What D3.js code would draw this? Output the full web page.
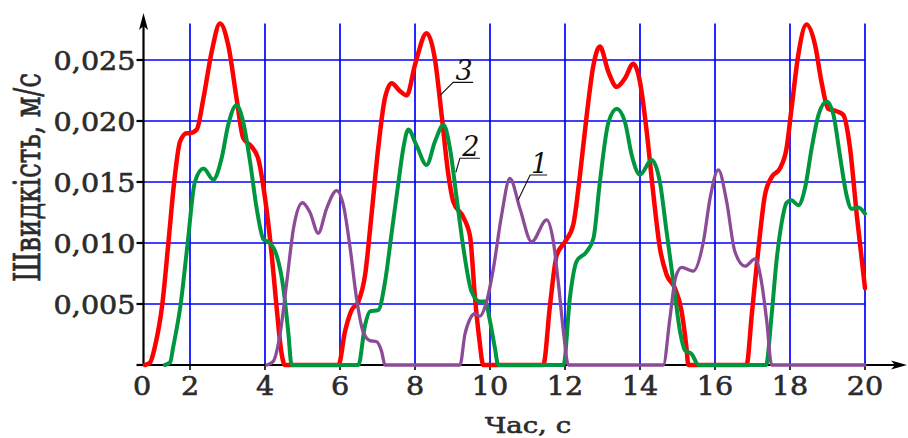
<!DOCTYPE html>
<html><head><meta charset="utf-8">
<script src="https://cdn.jsdelivr.net/npm/d3@7"></script>
<style>html,body{margin:0;padding:0;background:#fff;overflow:hidden}</style>
</head><body>
<svg id="c" width="908" height="438"></svg>
<script>
// ---------- data ----------
const xTickValues = [0, 2, 4, 6, 8, 10, 12, 14, 16, 18, 20];
const xTickLabels = ["0", "2", "4", "6", "8", "10", "12", "14", "16", "18", "20"];
const yTickValues = [0, 0.005, 0.010, 0.015, 0.020, 0.025];
const yTickLabels = ["", "0,005", "0,010", "0,015", "0,020", "0,025"];
const xTitle = "Час, с";
const yTitle = "Швидкість, м/с";
const seriesNames = ["1", "2", "3"];

// curve 1 (purple)
const series1 = [
  [4.05,0],[4.22,0.0003],[4.4,0.0025],[4.58,0.0068],[4.76,0.0112],[5.0,0.0133],[5.2,0.0125],
  [5.42,0.0108],[5.64,0.0128],[5.91,0.0143],[6.09,0.0131],[6.27,0.0096],[6.44,0.0055],
  [6.62,0.0027],[6.8,0.0020],[6.98,0.0019],[7.11,0.0011],[7.2,0],[9.2,0],[9.33,0.0025],
  [9.47,0.0038],[9.6,0.0042],[9.73,0.0040],[9.91,0.0052],[10.09,0.0079],[10.31,0.0123],
  [10.53,0.0153],[10.8,0.0128],[11.11,0.0101],[11.51,0.0119],[11.69,0.0101],[11.82,0.0068],
  [11.96,0.0027],[12.09,0],[14.62,0],[14.8,0.0039],[14.95,0.0072],[15.11,0.0080],[15.42,0.0077],
  [15.69,0.0101],[15.87,0.0137],[16.09,0.0160],[16.31,0.0134],[16.53,0.0093],[16.8,0.0081],
  [17.07,0.0087],[17.24,0.0068],[17.38,0.0036],[17.51,0],[20,0]
];
// curve 2 (green)
const series2 = [
  [0.92,0],[1.14,0.0002],[1.28,0.0015],[1.6,0.005],[1.9,0.010],[2.13,0.015],[2.36,0.0161],
  [2.62,0.0152],[2.84,0.0169],[3.02,0.0197],[3.24,0.0213],[3.42,0.0199],[3.6,0.0167],
  [3.78,0.0128],[3.96,0.0103],[4.13,0.0100],[4.31,0.0090],[4.49,0.0063],[4.62,0.0027],[4.71,0],
  [6.49,0],[6.67,0.0033],[6.8,0.0044],[7.02,0.0045],[7.2,0.0068],[7.38,0.0109],[7.56,0.0150],
  [7.69,0.0178],[7.82,0.0193],[8.04,0.0180],[8.31,0.0164],[8.53,0.0183],[8.76,0.0197],
  [8.93,0.0178],[9.11,0.0137],[9.29,0.0096],[9.51,0.0060],[9.73,0.0052],[9.87,0.0052],
  [10.0,0.0036],[10.13,0.0014],[10.22,0],[11.96,0],[12.13,0.0055],[12.31,0.0085],[12.58,0.0093],
  [12.76,0.0104],[12.93,0.0150],[13.16,0.0199],[13.38,0.0210],[13.6,0.0199],[13.78,0.0172],
  [14.0,0.0156],[14.31,0.0168],[14.53,0.0150],[14.71,0.0109],[14.89,0.0068],[15.07,0.0027],
  [15.2,0.0012],[15.38,0.0009],[15.56,0],[17.36,0],[17.51,0.0041],[17.64,0.0085],[17.78,0.0117],
  [17.91,0.0133],[18.04,0.0135],[18.22,0.0131],[18.4,0.0145],[18.58,0.0178],[18.76,0.0205],
  [18.98,0.0216],[19.16,0.0205],[19.33,0.0172],[19.51,0.0139],[19.64,0.0128],[19.82,0.0129],
  [20.0,0.0124]
];
// curve 3 (red)
const series3 = [
  [0.06,0],[0.28,0.0002],[0.49,0.0015],[0.81,0.005],[1.07,0.010],[1.32,0.015],[1.57,0.0183],
  [1.86,0.0190],[2.0,0.0190],[2.18,0.0193],[2.36,0.0219],[2.58,0.0257],[2.8,0.0280],[3.02,0.0262],
  [3.24,0.0219],[3.42,0.0186],[3.64,0.0179],[3.82,0.0169],[4.0,0.0137],[4.18,0.0090],[4.31,0.0047],
  [4.45,0.0008],[4.53,0],[5.96,0],[6.13,0.0027],[6.31,0.0045],[6.49,0.0052],[6.67,0.0074],
  [6.84,0.0123],[7.02,0.0178],[7.2,0.0219],[7.38,0.0231],[7.58,0.0225],[7.78,0.0221],[8.0,0.0246],
  [8.31,0.0272],[8.53,0.0251],[8.71,0.0205],[8.89,0.0156],[9.02,0.0134],[9.29,0.0121],
  [9.47,0.0105],[9.6,0.0055],[9.72,0.0020],[9.82,0],[11.42,0],[11.6,0.0049],[11.78,0.0090],
  [12.0,0.0101],[12.22,0.0115],[12.4,0.0156],[12.58,0.0205],[12.76,0.0246],[12.93,0.0261],
  [13.16,0.0240],[13.38,0.0228],[13.6,0.0235],[13.82,0.0247],[14.0,0.0232],[14.18,0.0191],
  [14.36,0.0139],[14.53,0.0096],[14.71,0.0074],[14.93,0.0063],[15.11,0.0044],[15.24,0.0014],
  [15.29,0],[16.84,0],[16.98,0.0041],[17.16,0.0096],[17.33,0.0139],[17.51,0.0154],[17.73,0.0161],
  [17.91,0.0178],[18.04,0.0210],[18.22,0.0254],[18.44,0.0279],[18.67,0.0262],[18.84,0.0232],
  [19.02,0.0210],[19.24,0.0208],[19.42,0.0205],[19.6,0.0178],[19.78,0.0123],[20.0,0.0063]
];
// points on the curves where the numbered callouts attach
const calloutAnchors = [[10.75, 0.01352], [9.09, 0.0158], [8.67, 0.0221]];

// ---------- layout / style ----------
const mLeft = 143.5, mBottom = 365, xBreak = 190, mRight = 865, mTop = 23.4;
const colors = ["#8c4b97", "#00963f", "#ff0000"];
const widths = [3.3, 4, 4.5];
const calloutOffsets = [ // [leader dx, leader dy, underline length]
  [12, -25, 17], [4, -14, 20], [13, -13, 20]
];
const serif = "'DejaVu Serif', serif";
const textFill = "#2b2b2b";

const svg = d3.select("#c");
const x = d3.scaleLinear().domain([0, 2, 20]).range([mLeft, xBreak, mRight]);
const y = d3.scaleLinear().domain([0, 0.028]).range([mBottom, mTop]);

// grid
const g = svg.append("g");
g.selectAll(".vg").data(xTickValues.slice(1)).join("line")
  .attr("x1", d => x(d)).attr("x2", d => x(d))
  .attr("y1", y(0.028)).attr("y2", mBottom)
  .attr("stroke", "#0000ff").attr("stroke-width", 1.7);
g.selectAll(".hg").data(yTickValues.slice(1)).join("line")
  .attr("x1", mLeft).attr("x2", x(20))
  .attr("y1", d => y(d)).attr("y2", d => y(d))
  .attr("stroke", "#0000ff").attr("stroke-width", 1.7);

// axes
const ax = svg.append("g").attr("stroke", "#000");
ax.append("line").attr("x1", mLeft).attr("x2", 897).attr("y1", mBottom).attr("y2", mBottom).attr("stroke-width", 2.2);
ax.append("line").attr("x1", mLeft).attr("x2", mLeft).attr("y1", mBottom + 1).attr("y2", 26).attr("stroke-width", 2.2);
svg.append("path").attr("d", `M907,${mBottom} L891,${mBottom - 4.5} L895,${mBottom} L891,${mBottom + 4.5} Z`).attr("fill", "#000");
svg.append("path").attr("d", `M${mLeft},13 L${mLeft - 4.5},30 L${mLeft},26 L${mLeft + 4.5},30 Z`).attr("fill", "#000");
// ticks
ax.selectAll(".yt").data(yTickValues).join("line")
  .attr("x1", mLeft - 7).attr("x2", mLeft).attr("y1", d => y(d)).attr("y2", d => y(d)).attr("stroke-width", 2.2);
ax.selectAll(".xt").data(xTickValues.slice(1)).join("line")
  .attr("x1", d => x(d)).attr("x2", d => x(d)).attr("y1", mBottom).attr("y2", mBottom + 5).attr("stroke-width", 1.6);

// tick labels
svg.selectAll(".yl").data(yTickValues).join("text")
  .attr("transform", d => `translate(${mLeft - 8},${y(d) + 9.5}) scale(1.1,1)`)
  .attr("text-anchor", "end").attr("font-family", serif).attr("font-size", 26)
  .attr("fill", textFill).attr("stroke", textFill).attr("stroke-width", 0.6)
  .text((d, i) => yTickLabels[i]);
svg.selectAll(".xl").data(xTickValues).join("text")
  .attr("transform", d => `translate(${x(d) - (d === 0 ? 1.5 : 0)},${mBottom + 30}) scale(1.1,1)`)
  .attr("text-anchor", "middle").attr("font-family", serif).attr("font-size", 26)
  .attr("fill", textFill).attr("stroke", textFill).attr("stroke-width", 0.6)
  .text((d, i) => xTickLabels[i]);

// titles
svg.append("text").attr("transform", `translate(528,433) scale(1.2,1)`)
  .attr("text-anchor", "middle").attr("font-family", serif).attr("font-size", 23)
  .attr("fill", textFill).attr("stroke", textFill).attr("stroke-width", 0.6).text(xTitle);
svg.append("text").attr("transform", `translate(39.5,177.5) rotate(-90) scale(1,1.38)`)
  .attr("text-anchor", "middle").attr("font-family", serif).attr("font-size", 26.5)
  .attr("fill", textFill).attr("stroke", textFill).attr("stroke-width", 0.5).text(yTitle);

// curves
const line = d3.line().x(d => x(d[0])).y(d => y(d[1])).curve(d3.curveMonotoneX);
const allSeries = [series3, series2, series1];
const order = [2, 1, 0];
svg.selectAll(".s").data(allSeries).join("path")
  .attr("d", d => line(d)).attr("fill", "none")
  .attr("stroke", (d, i) => colors[order[i]]).attr("stroke-width", (d, i) => widths[order[i]])
  .attr("stroke-linejoin", "round").attr("stroke-linecap", "round");

// callouts
const co = svg.append("g");
calloutAnchors.forEach((a, i) => {
  const [dx, dy, len] = calloutOffsets[i];
  const px = x(a[0]), py = y(a[1]);
  const ux = px + dx, uy = py + dy;
  co.append("path").attr("d", `M${px},${py} L${ux},${uy} L${ux + len},${uy}`)
    .attr("fill", "none").attr("stroke", "#111").attr("stroke-width", 1.1);
  co.append("text").attr("x", ux + len / 2 + 1).attr("y", uy - 2.5)
    .attr("text-anchor", "middle").attr("font-family", serif).attr("font-style", "italic")
    .attr("font-size", 27).attr("fill", "#111").text(seriesNames[i]);
});
</script>
</body></html>
